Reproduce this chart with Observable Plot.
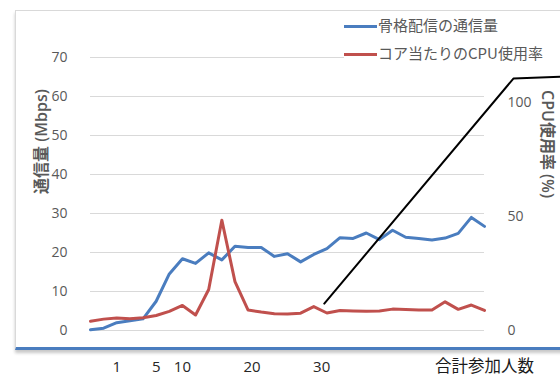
<!DOCTYPE html>
<html>
<head>
<meta charset="utf-8">
<script src="https://cdn.jsdelivr.net/npm/d3@7"></script>
<script src="https://cdn.jsdelivr.net/npm/@observablehq/plot@0.6"></script>
<style>
  body { margin: 0; background: #fff; }
  #chart {
    position: relative; width: 560px; height: 376px; overflow: hidden;
    font-family: "Open Sans", "Noto Sans CJK JP", sans-serif;
  }
  #box {
    position: absolute; left: 15px; top: 10px; width: 620px; height: 336px;
    border: 1px solid #d9d9d9; border-bottom: 3px solid #4a7dbf;
    box-shadow: 0 3px 3px rgba(0, 0, 0, 0.22);
  }
  #chart svg { position: absolute; left: 0; top: 0; }
  #legend {
    position: absolute; left: 344px; top: 11px; width: 216px;
    background: #fff; color: #595959; font-size: 15px;
    font-family: "Noto Sans CJK JP", sans-serif;
  }
  #legend .row { height: 28px; line-height: 28px; white-space: nowrap; }
  #legend .sw { display: inline-block; width: 33px; height: 3px; vertical-align: middle; margin-right: 1px; }
</style>
</head>
<body>
<div id="chart"><div id="box"></div></div>
<script>
// Bandwidth of skeleton streaming (Mbps), one value per step
const bandwidth = [0.2, 0.6, 2.0, 2.5, 3.0, 7.5, 14.5, 18.4, 17.2, 19.9, 18.1, 21.6, 21.3, 21.3, 19.0,
  19.7, 17.6, 19.5, 21.0, 23.8, 23.6, 25.0, 23.3, 25.7, 23.9, 23.6, 23.2, 23.7, 24.9, 29.0, 26.7];
// CPU usage per core (%), one value per step
const cpuUsage = [4.1, 5.0, 5.5, 5.2, 5.6, 6.6, 8.4, 11.0, 6.8, 18.0, 48.5, 21.5, 9.0, 8.1, 7.4,
  7.3, 7.6, 10.5, 7.7, 8.8, 8.6, 8.5, 8.6, 9.4, 9.2, 9.0, 9.0, 12.6, 9.3, 11.2, 8.8];

const seriesNames = ["骨格配信の通信量", "コア当たりのCPU使用率"];
const seriesColors = ["#4a7dbf", "#c0504d"];

const leftTicks = [0, 10, 20, 30, 40, 50, 60, 70];
const leftMax = 70;
const cpuTicks = [0, 50, 100];
const cpuMax = 120;
const xTickAt = [2, 5, 7, 12.3, 17.6];
const xTickLabels = ["1", "5", "10", "20", "30"];
const xTitle = "合計参加人数";
const leftTitle = "通信量 (Mbps)";
const rightTitle = "CPU使用率 (%)";
// leader line of the callout, in chart units (step, Mbps)
const calloutPath = [{x: 17.8, y: 6.9}, {x: 32.2, y: 64.6}, {x: 35.8, y: 65.1}];

// CPU % is drawn against the left scale via a fixed ratio (secondary axis)
const k = leftMax / cpuMax;
const bwData = bandwidth.map((v, i) => ({i, v}));
const cpuData = cpuUsage.map((v, i) => ({i, v}));
const lastStep = bandwidth.length - 1;

const plot = Plot.plot({
  width: 560,
  height: 376,
  marginLeft: 90,
  marginRight: 76,
  marginTop: 57,
  marginBottom: 46,
  style: {
    background: "none",
    fontFamily: "'Open Sans', 'Noto Sans CJK JP', sans-serif",
    fontSize: "14px",
    color: "#595959",
    overflow: "visible"
  },
  x: {domain: [0, lastStep], axis: null},
  y: {domain: [0, leftMax], axis: null},
  marks: [
    Plot.gridY(leftTicks, {stroke: "#d9d9d9", strokeOpacity: 1, strokeWidth: 1}),
    Plot.axisY(leftTicks, {anchor: "left", tickSize: 0, tickPadding: 23, label: null, fill: "#595959"}),
    Plot.axisY(cpuTicks.map(t => t * k), {
      anchor: "right", tickSize: 0, tickPadding: 23, label: null, fill: "#595959",
      tickFormat: d => String(Math.round(d / k))
    }),
    Plot.text(xTickLabels, {
      x: (d, i) => xTickAt[i], frameAnchor: "bottom", dy: 37, lineAnchor: "middle",
      fontSize: 15, fill: "#262626"
    }),
    Plot.text([xTitle], {
      x: lastStep, frameAnchor: "bottom", dy: 36, lineAnchor: "middle",
      fontSize: 16.5, fill: "#1a1a1a", fontFamily: "'Noto Sans CJK JP', sans-serif"
    }),
    Plot.text([leftTitle], {
      frameAnchor: "left", dx: -49, rotate: -90, fontSize: 16, fontWeight: 600, fill: "#595959"
    }),
    Plot.text([rightTitle], {
      frameAnchor: "right", dx: 63, dy: 4, rotate: 90, fontSize: 16, fontWeight: 600, fill: "#595959"
    }),
    Plot.line(bwData, {x: "i", y: "v", stroke: seriesColors[0], strokeWidth: 3, strokeLinejoin: "round", strokeLinecap: "round"}),
    Plot.line(cpuData, {x: "i", y: d => d.v * k, stroke: seriesColors[1], strokeWidth: 3, strokeLinejoin: "round", strokeLinecap: "round"}),
    Plot.line(calloutPath, {x: "x", y: "y", stroke: "#000", strokeWidth: 2})
  ]
});

const chart = document.getElementById("chart");
chart.appendChild(plot);

const legend = document.createElement("div");
legend.id = "legend";
seriesNames.forEach((name, i) => {
  const row = document.createElement("div");
  row.className = "row";
  const sw = document.createElement("span");
  sw.className = "sw";
  sw.style.background = seriesColors[i];
  const label = document.createElement("span");
  label.textContent = name;
  row.appendChild(sw);
  row.appendChild(label);
  legend.appendChild(row);
});
chart.appendChild(legend);
</script>
</body>
</html>
